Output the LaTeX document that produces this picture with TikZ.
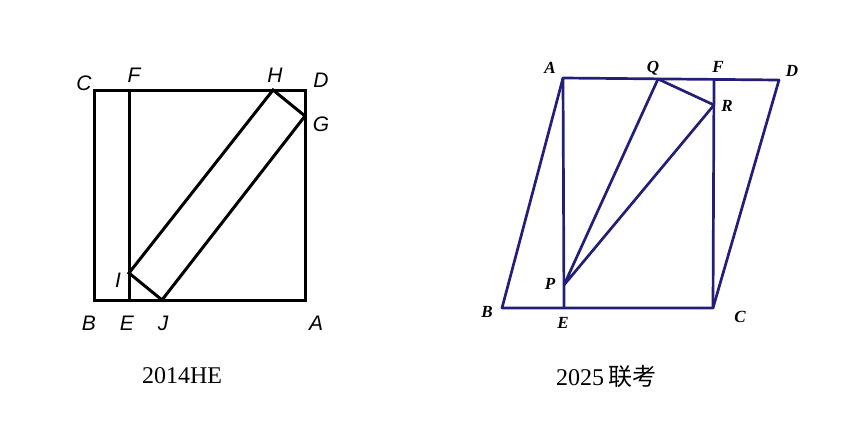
\documentclass[tikz,border=0pt]{standalone}
\usepackage{fontspec}
\setmainfont{Liberation Serif}
\setsansfont{Liberation Sans}
\newfontfamily\cjk{Noto Sans CJK SC}
\definecolor{navy}{RGB}{35,30,120}

\begin{document}
\begin{tikzpicture}[x=1pt,y=-1pt,
    sq/.style={draw=black,line width=3pt,line join=miter},
    pg/.style={draw=navy,line width=2.7pt,line join=round},
    lab/.style={font=\sffamily\itshape\fontsize{21}{21}\selectfont},
    blab/.style={font=\bfseries\itshape\fontsize{17}{17}\selectfont},
    figcap/.style={font=\fontsize{24}{24}\selectfont}]

     \useasboundingbox (0,0) rectangle (846,421);

     % left square
     \coordinate (C) at (94,90);
     \coordinate (D) at (305,90);
     \coordinate (A) at (305,300);
     \coordinate (B) at (94,300);
     \coordinate (F) at (129,90);
     \coordinate (E) at (129,300);
     \coordinate (H) at (273,90);
     \coordinate (G) at (305,116);
     \coordinate (I) at (129,273);
     \coordinate (J) at (162,300);

     \node[lab] (Cn) at (84,83){C};
     \node[lab] (Fn) at (134,75){F};
     \node[lab] (Hn) at (275,75){H};
     \node[lab] (Dn) at (321,80){D};
     \node[lab] (Gn) at (321,124){G};
     \node[lab] (In) at (118,280){I};
     \node[lab] (Bn) at (89,323){B};
     \node[lab] (En) at (127,323){E};
     \node[lab] (Jn) at (163,323){J};
     \node[lab] (An) at (316,323){A};

     \draw [sq] (C) -- (D) -- (A) -- (B) -- cycle;
     \draw [sq] (F) to (E);
     \draw [sq] (H) -- (G) -- (J) -- (I) -- cycle;

     % right parallelogram
     \coordinate (A2) at (563,78);
     \coordinate (D2) at (779,80);
     \coordinate (C2) at (713,308);
     \coordinate (B2) at (502,308);
     \coordinate (E2) at (564,308);
     \coordinate (F2) at (714,79);
     \coordinate (Q2) at (658,79);
     \coordinate (R2) at (714,105);
     \coordinate (P2) at (564,285);

     \node[blab] (A2n) at (550,68){A};
     \node[blab] (Q2n) at (653,68){Q};
     \node[blab] (F2n) at (718,67){F};
     \node[blab] (D2n) at (792,71){D};
     \node[blab] (R2n) at (727,106){R};
     \node[blab] (P2n) at (550,284){P};
     \node[blab] (B2n) at (487,312){B};
     \node[blab] (E2n) at (563,323){E};
     \node[blab] (C2n) at (740,317){C};

     \draw [pg] (A2) -- (D2) -- (C2) -- (B2) -- cycle;
     \draw [pg] (A2) to (E2);
     \draw [pg] (F2) to (C2);
     \draw [pg] (P2) -- (Q2) -- (R2) -- cycle;

     % captions
     \node[figcap] (cap1) at (182,376){2014HE};
     \node[figcap] (cap2) at (606,376){2025\,{\cjk 联考}};

\end{tikzpicture}
\end{document}
